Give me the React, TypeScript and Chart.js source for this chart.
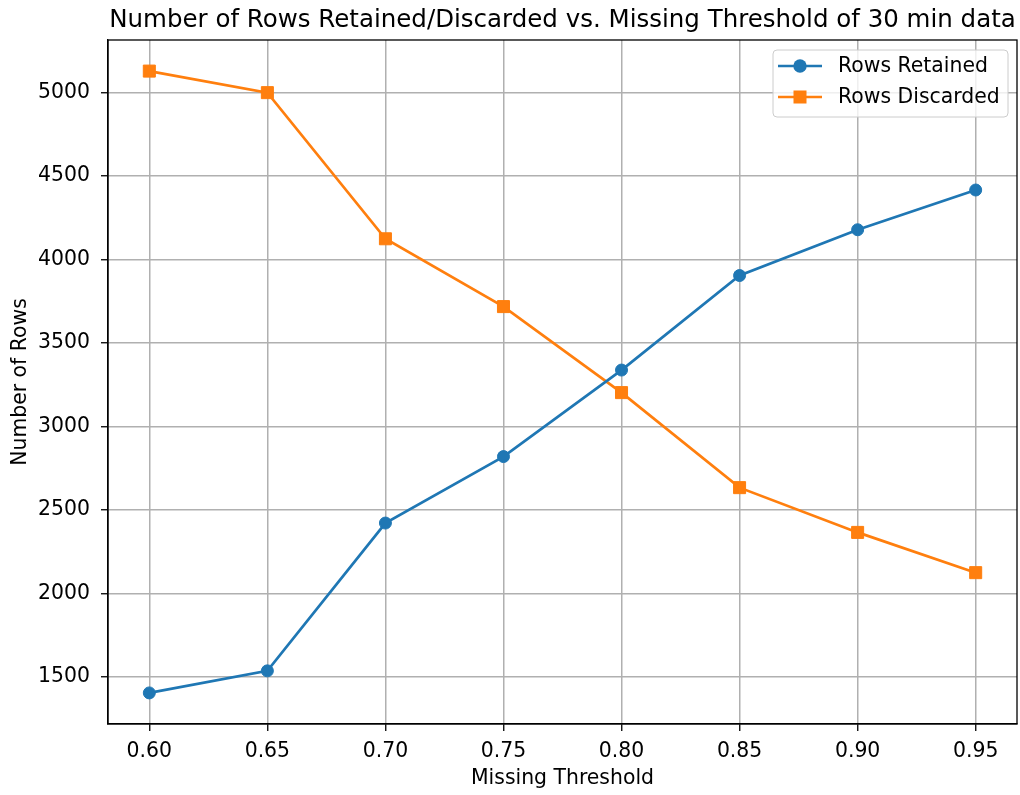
import React, { useEffect, useRef } from "react";
import { Chart, registerables } from "chart.js";

Chart.register(...registerables);

const thresholds = [0.6, 0.65, 0.7, 0.75, 0.8, 0.85, 0.9, 0.95];
const rowsRetained = [1405, 1537, 2422, 2820, 3338, 3904, 4178, 4416];
const rowsDiscarded = [5128, 4999, 4124, 3718, 3203, 2634, 2366, 2125];
const xTickValues = [0.6, 0.65, 0.7, 0.75, 0.8, 0.85, 0.9, 0.95];
const yTickValues = [1500, 2000, 2500, 3000, 3500, 4000, 4500, 5000];

const titleText = "Number of Rows Retained/Discarded vs. Missing Threshold of 30 min data";
const xTitle = "Missing Threshold";
const yTitle = "Number of Rows";
const seriesLabels = ["Rows Retained", "Rows Discarded"];
const BLUE = "#1f77b4";
const ORANGE = "#ff7f0e";
const FONT = "'DejaVu Sans', sans-serif";
const LABEL_SIZE = 20.4;
const TITLE_SIZE = 24.5;

const allY = [...rowsRetained, ...rowsDiscarded];
const yLo = Math.min(...allY);
const yHi = Math.max(...allY);
const yPad = (yHi - yLo) * 0.05;
const xLo = thresholds[0];
const xHi = thresholds[thresholds.length - 1];
const xPad = (xHi - xLo) * 0.05;

const framePlugin = {
  id: "frame",
  afterDraw(chart: any) {
    const { ctx, chartArea } = chart;
    const { left, right, top, bottom } = chartArea;
    ctx.save();
    // spines
    ctx.strokeStyle = "#000";
    ctx.lineWidth = 1.3;
    ctx.strokeRect(left, top, right - left, bottom - top);
    // title
    ctx.fillStyle = "#000";
    ctx.font = `${TITLE_SIZE}px ${FONT}`;
    ctx.textAlign = "center";
    ctx.textBaseline = "alphabetic";
    ctx.fillText(titleText, (left + right) / 2, 27);
    // legend
    const boxRight = right - 9;
    const boxLeft = boxRight - 235;
    const boxTop = top + 10;
    const boxH = 67;
    ctx.beginPath();
    const r = 4;
    ctx.moveTo(boxLeft + r, boxTop);
    ctx.lineTo(boxRight - r, boxTop);
    ctx.quadraticCurveTo(boxRight, boxTop, boxRight, boxTop + r);
    ctx.lineTo(boxRight, boxTop + boxH - r);
    ctx.quadraticCurveTo(boxRight, boxTop + boxH, boxRight - r, boxTop + boxH);
    ctx.lineTo(boxLeft + r, boxTop + boxH);
    ctx.quadraticCurveTo(boxLeft, boxTop + boxH, boxLeft, boxTop + boxH - r);
    ctx.lineTo(boxLeft, boxTop + r);
    ctx.quadraticCurveTo(boxLeft, boxTop, boxLeft + r, boxTop);
    ctx.closePath();
    ctx.fillStyle = "rgba(255,255,255,0.8)";
    ctx.fill();
    ctx.strokeStyle = "#cccccc";
    ctx.lineWidth = 1;
    ctx.stroke();
    const datasets = chart.data.datasets;
    datasets.forEach((ds: any, i: number) => {
      const cy = boxTop + 16 + i * 31;
      const x0 = boxLeft + 5;
      const x1 = x0 + 44;
      ctx.strokeStyle = ds.borderColor;
      ctx.lineWidth = 2.7;
      ctx.beginPath();
      ctx.moveTo(x0, cy);
      ctx.lineTo(x1, cy);
      ctx.stroke();
      ctx.fillStyle = ds.borderColor;
      const cx = (x0 + x1) / 2;
      if (ds.pointStyle === "rect") {
        ctx.fillRect(cx - 6.5, cy - 6.5, 13, 13);
      } else {
        ctx.beginPath();
        ctx.arc(cx, cy, 6.7, 0, Math.PI * 2);
        ctx.fill();
      }
      ctx.fillStyle = "#000";
      ctx.font = `${LABEL_SIZE}px ${FONT}`;
      ctx.textAlign = "left";
      ctx.textBaseline = "middle";
      ctx.fillText(ds.label, x1 + 16, cy + 1);
    });
    ctx.restore();
  },
};

export default function App() {
  const canvasRef = useRef<HTMLCanvasElement | null>(null);

  useEffect(() => {
    const canvas = canvasRef.current;
    if (!canvas) return;
    const tickFont = { family: FONT, size: LABEL_SIZE };
    const chart = new Chart(canvas, {
      type: "line",
      data: {
        datasets: [
          {
            label: seriesLabels[0],
            data: thresholds.map((t, i) => ({ x: t, y: rowsRetained[i] })),
            borderColor: BLUE,
            backgroundColor: BLUE,
            borderWidth: 2.7,
            pointStyle: "circle",
            pointRadius: 6,
            pointBorderWidth: 1,
            pointBorderColor: BLUE,
            pointBackgroundColor: BLUE,
            tension: 0,
          },
          {
            label: seriesLabels[1],
            data: thresholds.map((t, i) => ({ x: t, y: rowsDiscarded[i] })),
            borderColor: ORANGE,
            backgroundColor: ORANGE,
            borderWidth: 2.7,
            pointStyle: "rect",
            pointRadius: 8.5,
            pointBorderWidth: 1,
            pointBorderColor: ORANGE,
            pointBackgroundColor: ORANGE,
            tension: 0,
          },
        ],
      },
      options: {
        responsive: false,
        animation: false,
        events: [],
        layout: { autoPadding: false, padding: { left: 0, right: 3, top: 40, bottom: 0 } },
        plugins: {
          legend: { display: false },
          title: { display: false },
          tooltip: { enabled: false },
        },
        scales: {
          x: {
            type: "linear",
            min: xLo - xPad,
            max: xHi + xPad,
            afterBuildTicks: (scale: any) => {
              scale.ticks = xTickValues.map((v) => ({ value: v }));
            },
            afterFit: (scale: any) => {
              scale.height = 71;
              scale.paddingLeft = 0;
              scale.paddingRight = 0;
            },
            ticks: {
              font: tickFont,
              color: "#000",
              padding: 8,
              maxRotation: 0,
              autoSkip: false,
              callback: (v: any) => Number(v).toFixed(2),
            },
            grid: {
              color: "#b0b0b0",
              lineWidth: 1.5,
              tickColor: "#000",
              tickLength: 7,
              tickWidth: 1.3,
            },
            border: { display: true, color: "#000", width: 1.3 },
            title: {
              display: true,
              text: xTitle,
              font: { family: FONT, size: LABEL_SIZE, lineHeight: 1.2 },
              color: "#000",
              padding: { top: 0, bottom: 4 },
            },
          },
          y: {
            type: "linear",
            min: yLo - yPad,
            max: yHi + yPad,
            afterBuildTicks: (scale: any) => {
              scale.ticks = yTickValues.map((v) => ({ value: v }));
            },
            afterFit: (scale: any) => {
              scale.width = 108;
              scale.paddingTop = 0;
              scale.paddingBottom = 0;
            },
            ticks: {
              font: tickFont,
              color: "#000",
              padding: 11,
              autoSkip: false,
              callback: (v: any) => String(v),
            },
            grid: {
              color: "#b0b0b0",
              lineWidth: 1.5,
              tickColor: "#000",
              tickLength: 7,
              tickWidth: 1.3,
            },
            border: { display: true, color: "#000", width: 1.3 },
            title: {
              display: true,
              text: yTitle,
              font: { family: FONT, size: LABEL_SIZE, lineHeight: 1.2 },
              color: "#000",
              padding: { top: 8, bottom: 0 },
            },
          },
        },
      },
      plugins: [framePlugin],
    } as any);
    return () => chart.destroy();
  }, []);

  return (
    <div style={{ position: "absolute", left: 0, top: 0, width: 1020, height: 795, background: "#fff" }}>
      <canvas ref={canvasRef} width={1020} height={795} style={{ display: "block" }} />
    </div>
  );
}
